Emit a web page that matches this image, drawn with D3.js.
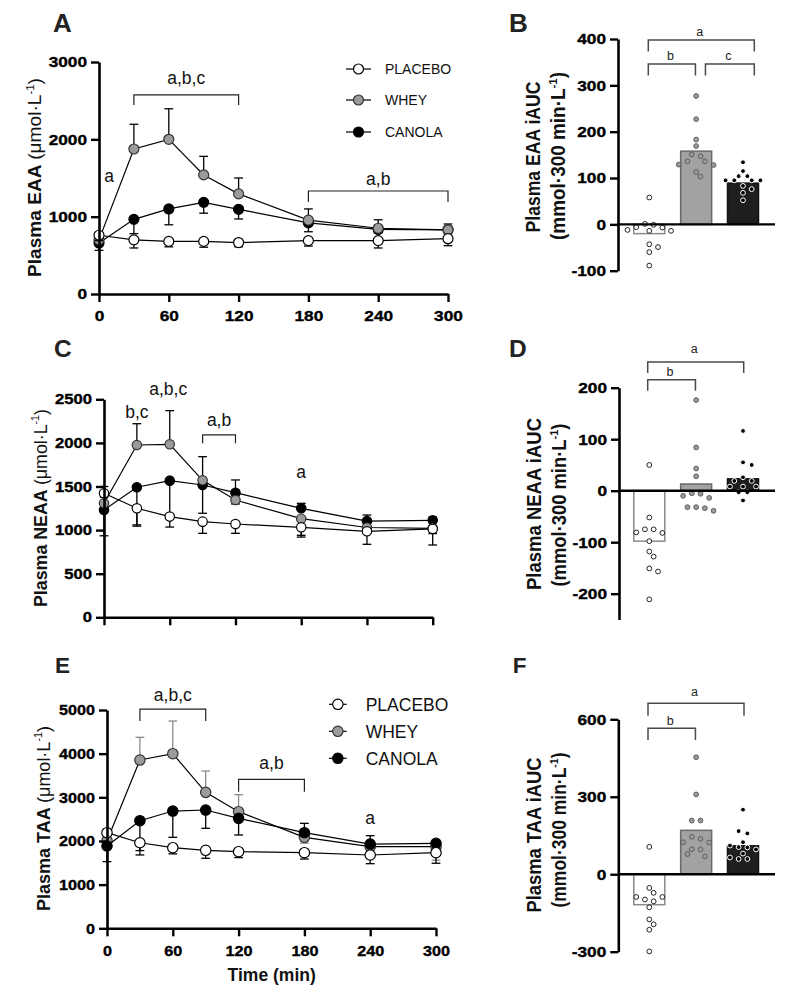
<!DOCTYPE html>
<html>
<head>
<meta charset="utf-8">
<script src="https://cdn.jsdelivr.net/npm/d3@7"></script>
<style>
  body { margin: 0; background: #fff; }
  text { font-family: "Liberation Sans", Arial, sans-serif; fill: #111; }
</style>
</head>
<body>
<svg id="fig" width="787" height="1003"></svg>
<script>
// ---- data ----
const times = [0, 30, 60, 90, 120, 180, 240, 300];
const timeTicks = [0, 60, 120, 180, 240, 300];
const groups = ['PLACEBO', 'WHEY', 'CANOLA'];

// A: plasma EAA (umol/L), mean and error-bar tip
const eaaPlacebo = [760, 700, 680, 680, 665, 690, 690, 715];
const eaaPlaceboErr = [690, 595, 610, 605, 610, 620, 595, 625];
const eaaWhey = [700, 1875, 2000, 1540, 1295, 955, 850, 830];
const eaaWheyErr = [760, 2195, 2395, 1780, 1500, 1100, 960, 905];
const eaaCanola = [660, 965, 1100, 1185, 1095, 920, 835, 830];
const eaaCanolaErr = [565, 780, 895, 1045, 970, 805, 790, 780];

// C: plasma NEAA
const neaaPlacebo = [1422, 1250, 1155, 1097, 1070, 1032, 986, 1013];
const neaaPlaceboErr = [1380, 1045, 1035, 963, 963, 920, 837, 829];
const neaaWhey = [1307, 1976, 1984, 1571, 1345, 1131, 1030, 1020];
const neaaWheyErr = [1500, 2220, 2370, 1842, 1575, 940, 960, 960];
const neaaCanola = [1231, 1491, 1567, 1517, 1429, 1250, 1104, 1112];
const neaaCanolaErr = [935, 1060, 1180, 1193, 1300, 1307, 1173, 1150];

// E: plasma TAA
const taaPlacebo = [2190, 1960, 1846, 1786, 1755, 1732, 1679, 1732];
const taaPlaceboErr = [2150, 1680, 1705, 1603, 1620, 1587, 1480, 1490];
const taaWhey = [2007, 3854, 3999, 3114, 2671, 2084, 1869, 1869];
const taaWheyErr = [1990, 4374, 4747, 3602, 3060, 1950, 1820, 1560];
const taaCanola = [1885, 2465, 2686, 2709, 2518, 2190, 1930, 1946];
const taaCanolaErr = [1526, 1780, 2084, 2290, 2137, 2404, 2121, 2000];

// B, D, F: iAUC (mmol*300 min/L), bar means and individual values
const eaaAucMean = [-20, 158, 89];
const eaaAucPlacebo = [58, -7, -6, -1, 1, -14, -14, -12, -49, -43, -60, -89];
const eaaAucWhey = [277, 227, 183, 169, 151, 147, 136, 136, 129, 128, 113, 103];
const eaaAucCanola = [134, 115, 104, 104, 95, 95, 95, 95, 83, 76, 68, 52];

const neaaAucMean = [-98, 13, 23];
const neaaAucPlacebo = [50, -52, -75, -82, -81, -75, -98, -118, -128, -151, -157, -211];
const neaaAucWhey = [176, 84, 43, 28, -6, -5, -10, -14, -39, -32, -34, -32];
const neaaAucCanola = [116, 55, 50, 26, 19, 19, 8, 8, 8, -3, -3, -19];

const taaAucMean = [-118, 170, 110];
const taaAucPlacebo = [106, -53, -72, -88, -88, -98, -105, -128, -175, -194, -215, -299];
const taaAucWhey = [453, 309, 208, 208, 145, 137, 124, 123, 97, 96, 78, 69];
const taaAucCanola = [250, 167, 158, 124, 111, 105, 104, 96, 80, 65, 59, 59];

// ---- drawing ----
const svg = d3.select('#fig');

const markStyle = {
  PLACEBO: { fill: '#fff', stroke: '#000' },
  WHEY: { fill: '#9b9b9b', stroke: '#333' },
  CANOLA: { fill: '#000', stroke: '#000' }
};
const barStyle = {
  PLACEBO: { fill: '#fff', stroke: '#8a8a8a' },
  WHEY: { fill: '#a2a2a2', stroke: '#6a6a6a' },
  CANOLA: { fill: '#1e1e1e', stroke: '#111' }
};
const dotStyle = {
  PLACEBO: { fill: '#fff', stroke: '#222' },
  WHEY: { fill: '#9a9a9a', stroke: '#5e5e5e' },
  CANOLA: { fill: '#000', stroke: '#fff' }
};

const plain = d => String(d);

function stretch(sel, k) {
  sel.each(function () {
    const w = this.getComputedTextLength();
    d3.select(this).attr('textLength', w * k).attr('lengthAdjust', 'spacingAndGlyphs');
  });
}

function panelLetter(txt, x, y, size) {
  svg.append('text').text(txt).attr('x', x).attr('y', y)
    .attr('font-size', size).attr('font-weight', 'bold').style('fill', '#222');
}

// rotated axis title, parts = [{t, bold, sup}]
function rotTitle(x, y, parts, size, len) {
  const t = svg.append('text')
    .attr('transform', `translate(${x},${y}) rotate(-90)`)
    .attr('text-anchor', 'middle')
    .attr('font-size', size);
  let raised = false;
  parts.forEach(p => {
    const ts = t.append('tspan').text(p.t).attr('font-weight', p.bold ? 'bold' : 'normal');
    if (p.sup) { ts.attr('font-size', size * 0.6).attr('dy', -size * 0.4); raised = true; }
    else if (raised) { ts.attr('dy', size * 0.4); raised = false; }
  });
  t.attr('textLength', len).attr('lengthAdjust', 'spacingAndGlyphs');
}

function styleAxis(g, size, k) {
  g.select('.domain').attr('stroke', '#000').attr('stroke-width', 2.6);
  g.selectAll('.tick line').attr('stroke', '#000').attr('stroke-width', 2.4);
  g.selectAll('.tick text').attr('font-size', size).attr('font-weight', 'bold')
    .attr('font-family', '"Liberation Sans", Arial, sans-serif')
    .style('fill', '#000').style('stroke', '#000').style('stroke-width', 0.35);
  stretch(g.selectAll('.tick text'), k);
}

function linePanel(o) {
  const x = d3.scaleLinear().domain([0, 300]).range([o.left, o.right]);
  const y = d3.scaleLinear().domain([0, o.yMax]).range([o.bottom, o.top]);
  const g = svg.append('g');

  o.series.forEach(s => {
    const st = markStyle[s.name];
    const pts = times.map((t, i) => ({ t, v: s.vals[i], e: s.err[i] }));
    const eg = g.append('g').attr('stroke', s.errColor || '#000').attr('stroke-width', 1.3);
    eg.selectAll('line.bar').data(pts).join('line').attr('class', 'bar')
      .attr('x1', d => x(d.t)).attr('x2', d => x(d.t))
      .attr('y1', d => y(d.v)).attr('y2', d => y(d.e));
    eg.selectAll('line.cap').data(pts).join('line').attr('class', 'cap')
      .attr('x1', d => x(d.t) - 4.4).attr('x2', d => x(d.t) + 4.4)
      .attr('y1', d => y(d.e)).attr('y2', d => y(d.e));
    g.append('path').datum(pts)
      .attr('d', d3.line().x(d => x(d.t)).y(d => y(d.v)))
      .attr('fill', 'none').attr('stroke', '#000').attr('stroke-width', 1.2);
    g.append('g').selectAll('circle').data(pts).join('circle')
      .attr('cx', d => x(d.t)).attr('cy', d => y(d.v)).attr('r', o.r)
      .attr('fill', st.fill).attr('stroke', st.stroke).attr('stroke-width', 1.2);
  });

  const yAxis = g.append('g').attr('transform', `translate(${o.left},0)`)
    .call(d3.axisLeft(y).tickValues(o.yTicks).tickSize(8).tickPadding(4)
      .tickSizeOuter(0).tickFormat(plain));
  styleAxis(yAxis, o.tickSize, o.tickK);

  const xAxis = g.append('g').attr('transform', `translate(0,${o.bottom})`)
    .call(d3.axisBottom(x).tickValues(timeTicks).tickSize(8).tickPadding(o.xPad)
      .tickSizeOuter(0).tickFormat(o.xLabels ? plain : ''));
  styleAxis(xAxis, o.tickSize, o.tickK);

  // significance brackets and letters
  o.brackets.forEach(b => {
    g.append('path')
      .attr('d', `M${x(b.t0)},${y(b.tip)}V${y(b.v)}H${x(b.t1)}V${y(b.tip)}`)
      .attr('fill', 'none').attr('stroke', '#222').attr('stroke-width', 1.2);
  });
  o.notes.forEach(n => {
    g.append('text').text(n.text).attr('x', x(n.t)).attr('y', y(n.v))
      .attr('dy', '0.35em').attr('text-anchor', 'middle').attr('font-size', o.noteSize);
  });

  if (o.legend) {
    const L = o.legend;
    groups.forEach((grp, i) => {
      const yy = L.y[i];
      g.append('line').attr('x1', L.x0).attr('x2', L.x1).attr('y1', yy).attr('y2', yy)
        .attr('stroke', '#000').attr('stroke-width', 1.2);
      g.append('circle').attr('cx', (L.x0 + L.x1) / 2).attr('cy', yy).attr('r', o.r)
        .attr('fill', markStyle[grp].fill).attr('stroke', markStyle[grp].stroke).attr('stroke-width', 1.2);
      g.append('text').text(grp).attr('x', L.tx).attr('y', yy).attr('dy', '0.36em')
        .attr('font-size', L.size);
    });
  }
}

// simple row-based swarm for the dot plots
function swarm(vals, y, step, minD) {
  const pts = vals.map(v => ({ v, py: y(v), dx: 0 })).sort((a, b) => a.py - b.py);
  const rows = [];
  pts.forEach(p => {
    const r = rows[rows.length - 1];
    if (r && p.py - r[0].py < 2.5 && r.length < 4) r.push(p); else rows.push([p]);
  });
  const placed = [];
  let rowRef;
  const clash = xs => xs.some((dx, i) =>
    placed.some(q => Math.hypot(q.dx - dx, q.py - rowRef[i].py) < minD));
  rows.forEach(r => {
    rowRef = r;
    const n = r.length;
    const base = r.map((p, i) => (i - (n - 1) / 2) * step);
    let chosen = base;
    outer:
    for (let s = 0; s <= 8; s++) {
      const h = s * step / 2;
      const tries = [
        base.map(b => b === 0 ? b : b + Math.sign(b) * h),
        base.map(b => b + h),
        base.map(b => b - h)
      ];
      for (const xs of tries) {
        if (!clash(xs)) { chosen = xs; break outer; }
      }
    }
    r.forEach((p, i) => { p.dx = chosen[i]; placed.push(p); });
  });
  return pts;
}

function barPanel(o) {
  const x = d3.scalePoint().domain(groups).range([649.3, 743]);
  const y = d3.scaleLinear().domain(o.yDomain).range(o.yRange);
  const g = svg.append('g');

  g.selectAll('rect').data(groups).join('rect')
    .attr('x', d => x(d) - 15.5).attr('width', 31)
    .attr('y', (d, i) => y(Math.max(0, o.means[i])))
    .attr('height', (d, i) => Math.abs(y(o.means[i]) - y(0)))
    .attr('fill', d => barStyle[d].fill).attr('stroke', d => barStyle[d].stroke)
    .attr('stroke-width', 1.5);

  groups.forEach((grp, i) => {
    const pts = swarm(o.dots[i], y, 8.7, 6);
    g.append('g').selectAll('circle').data(pts).join('circle')
      .attr('cx', p => x(grp) + p.dx).attr('cy', p => p.py).attr('r', 2.4)
      .attr('fill', dotStyle[grp].fill).attr('stroke', dotStyle[grp].stroke).attr('stroke-width', 1);
  });

  g.append('line').attr('x1', o.axisX).attr('x2', 775).attr('y1', y(0)).attr('y2', y(0))
    .attr('stroke', '#000').attr('stroke-width', 2.4);

  const yAxis = g.append('g').attr('transform', `translate(${o.axisX},0)`)
    .call(d3.axisLeft(y).tickValues(o.ticks).tickSize(8).tickPadding(4)
      .tickSizeOuter(0).tickFormat(plain));
  styleAxis(yAxis, 15, 1.15);

  o.brackets.forEach(b => {
    const x0 = x(b.from) + b.o0, x1 = x(b.to) + b.o1;
    g.append('path')
      .attr('d', `M${x0},${y(b.tip)}V${y(b.v)}H${x1}V${y(b.tip)}`)
      .attr('fill', 'none').attr('stroke', '#4a4a4a').attr('stroke-width', 1.5);
    g.append('text').text(b.text).attr('x', (x0 + x1) / 2 - 1.5).attr('y', y(b.lab))
      .attr('dy', '0.33em').attr('text-anchor', 'middle').attr('font-size', 12.5)
      .style('fill', '#222');
  });
}

// ---- Panel A ----
panelLetter('A', 53, 32, 26);
linePanel({
  left: 99, right: 448, top: 62, bottom: 294, yMax: 3000,
  yTicks: [0, 1000, 2000, 3000], xLabels: true, xPad: 8, r: 5,
  tickSize: 15, tickK: 1.15, noteSize: 17.5,
  series: [
    { name: 'CANOLA', vals: eaaCanola, err: eaaCanolaErr },
    { name: 'WHEY', vals: eaaWhey, err: eaaWheyErr },
    { name: 'PLACEBO', vals: eaaPlacebo, err: eaaPlaceboErr }
  ],
  brackets: [{ t0: 30, t1: 120, v: 2575, tip: 2445 }, { t0: 180, t1: 300, v: 1332, tip: 1190 }],
  notes: [{ text: 'a,b,c', t: 75, v: 2790 }, { text: 'a', t: 8.6, v: 1530 }, { text: 'a,b', t: 240, v: 1495 }],
  legend: { x0: 346, x1: 371, tx: 385, y: [69, 100, 132], size: 14 }
});
rotTitle(41, 177.5, [{ t: 'Plasma EAA ', bold: true }, { t: '(μmol·L' }, { t: '-1', sup: true }, { t: ')' }], 18.5, 199);

// ---- Panel B ----
panelLetter('B', 509, 32, 26);
barPanel({
  axisX: 618, yDomain: [-100, 400], yRange: [270.7, 39], ticks: [-100, 0, 100, 200, 300, 400],
  means: eaaAucMean, dots: [eaaAucPlacebo, eaaAucWhey, eaaAucCanola],
  brackets: [
    { text: 'a', from: 'PLACEBO', to: 'CANOLA', o0: -1, o1: 11.3, v: 398, tip: 373, lab: 416 },
    { text: 'b', from: 'PLACEBO', to: 'WHEY', o0: -1, o1: -0.7, v: 346, tip: 321, lab: 364 },
    { text: 'c', from: 'WHEY', to: 'CANOLA', o0: 9.3, o1: 11.3, v: 346, tip: 321, lab: 364 }
  ]
});
rotTitle(540, 157, [{ t: 'Plasma EAA iAUC', bold: true }], 19.5, 151);
rotTitle(565, 156, [{ t: '(mmol·300 min·L', bold: true }, { t: '-1', sup: true, bold: true }, { t: ')', bold: true }], 19.5, 168);

// ---- Panel C ----
panelLetter('C', 54, 357, 24.5);
linePanel({
  left: 104, right: 432.7, top: 399.3, bottom: 617.3, yMax: 2500,
  yTicks: [0, 500, 1000, 1500, 2000, 2500], xLabels: false, xPad: 8, r: 4.7,
  tickSize: 14.5, tickK: 1.15, noteSize: 17.5,
  series: [
    { name: 'CANOLA', vals: neaaCanola, err: neaaCanolaErr },
    { name: 'WHEY', vals: neaaWhey, err: neaaWheyErr },
    { name: 'PLACEBO', vals: neaaPlacebo, err: neaaPlaceboErr }
  ],
  brackets: [{ t0: 90, t1: 120, v: 2092, tip: 1995 }],
  notes: [{ text: 'b,c', t: 30, v: 2358 }, { text: 'a,b,c', t: 58.6, v: 2615 },
    { text: 'a,b', t: 105, v: 2263 }, { text: 'a', t: 180, v: 1670 }]
});
rotTitle(46.5, 508, [{ t: 'Plasma NEAA ', bold: true }, { t: '(μmol·L' }, { t: '-1', sup: true }, { t: ')' }], 18.5, 198);

// ---- Panel D ----
panelLetter('D', 509, 357, 24.5);
barPanel({
  axisX: 619, yDomain: [-250, 200], yRange: [619.45, 387.7], ticks: [-200, -100, 0, 100, 200],
  means: neaaAucMean, dots: [neaaAucPlacebo, neaaAucWhey, neaaAucCanola],
  brackets: [
    { text: 'a', from: 'PLACEBO', to: 'CANOLA', o0: -1.6, o1: 0.7, v: 250, tip: 228.5, lab: 276 },
    { text: 'b', from: 'PLACEBO', to: 'WHEY', o0: -1.6, o1: -0.7, v: 215.5, tip: 194, lab: 230.5 }
  ]
});
rotTitle(541, 504, [{ t: 'Plasma NEAA iAUC', bold: true }], 19.5, 172);
rotTitle(566, 505, [{ t: '(mmol·300 min·L', bold: true }, { t: '-1', sup: true, bold: true }, { t: ')', bold: true }], 19.5, 163);

// ---- Panel E ----
panelLetter('E', 55, 673, 22.5);
linePanel({
  left: 107, right: 436, top: 710, bottom: 928.3, yMax: 5000,
  yTicks: [0, 1000, 2000, 3000, 4000, 5000], xLabels: true, xPad: 9, r: 5.2,
  tickSize: 15, tickK: 1.08, noteSize: 17.5,
  series: [
    { name: 'WHEY', vals: taaWhey, err: taaWheyErr, errColor: '#8c8c8c' },
    { name: 'CANOLA', vals: taaCanola, err: taaCanolaErr },
    { name: 'PLACEBO', vals: taaPlacebo, err: taaPlaceboErr }
  ],
  brackets: [{ t0: 30, t1: 90, v: 5022, tip: 4747 }, { t0: 120, t1: 180, v: 3412, tip: 3128 }],
  notes: [{ text: 'a,b,c', t: 60, v: 5342 }, { text: 'a,b', t: 150, v: 3778 }, { text: 'a', t: 240, v: 2519 }],
  legend: { x0: 329, x1: 346.7, tx: 365.7, y: [704.3, 731.3, 758.3], size: 17.5 }
});
rotTitle(49.5, 818.5, [{ t: 'Plasma TAA ', bold: true }, { t: '(μmol·L' }, { t: '-1', sup: true }, { t: ')' }], 18.5, 185);
svg.append('text').text('Time (min)').attr('x', 271.7).attr('y', 981)
  .attr('text-anchor', 'middle').attr('font-size', 17.5).attr('font-weight', 'bold');

// ---- Panel F ----
panelLetter('F', 512.7, 673, 22.5);
barPanel({
  axisX: 618.3, yDomain: [-300, 600], yRange: [951.7, 719.3], ticks: [-300, 0, 300, 600],
  means: taaAucMean, dots: [taaAucPlacebo, taaAucWhey, taaAucCanola],
  brackets: [
    { text: 'a', from: 'PLACEBO', to: 'CANOLA', o0: -1.3, o1: 1, v: 662, tip: 614, lab: 707 },
    { text: 'b', from: 'PLACEBO', to: 'WHEY', o0: -1.3, o1: -0.7, v: 565, tip: 520, lab: 594 }
  ]
});
rotTitle(541, 835, [{ t: 'Plasma TAA iAUC', bold: true }], 19.5, 155);
rotTitle(566, 830, [{ t: '(mmol·300 min·L', bold: true }, { t: '-1', sup: true, bold: true }, { t: ')', bold: true }], 19.5, 155);
</script>
</body>
</html>
